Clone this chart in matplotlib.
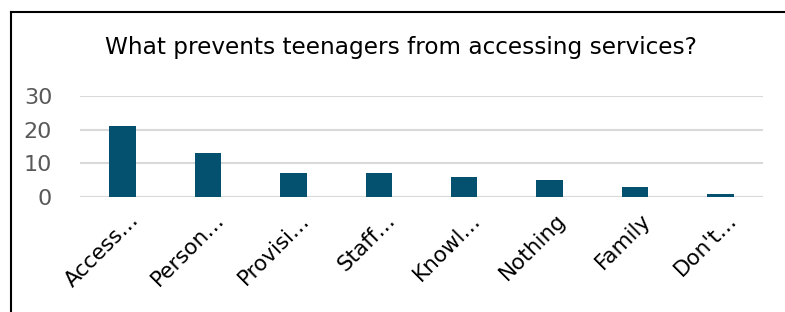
import matplotlib
matplotlib.use("Agg")
import matplotlib.pyplot as plt
import matplotlib.transforms as mtransforms
from matplotlib.lines import Line2D

categories = ["Access…", "Person…", "Provisi…", "Staff…", "Knowl…", "Nothing", "Family", "Don't…"]
counts = [21, 13, 7, 7, 6, 5, 3, 1]
yticks = [0, 10, 20, 30]

bar_color = "#03506F"
grid_color = "#D9D9D9"

fig = plt.figure(figsize=(7.85, 3.12), dpi=100)
ax = fig.add_axes([0.1019, 0.3686, 0.8701, 0.3237])

x = range(len(categories))
ax.bar(x, counts, width=0.31, color=bar_color, zorder=3)

ax.set_xlim(-0.5, len(categories) - 0.5)
ax.set_ylim(0, 30)
ax.set_yticks(yticks)
ax.set_yticklabels([str(v) for v in yticks], fontsize=16, color="#595959")
ax.yaxis.grid(True, color=grid_color, linewidth=1.5, zorder=0)
ax.tick_params(axis="y", length=0, pad=20)
ax.tick_params(axis="x", length=0, pad=9)
ax.set_xticks(list(x))
ax.set_xticklabels(categories, rotation=45, ha="right", rotation_mode="anchor",
                   fontsize=15.5, color="black")
# nudge the rotated labels a little to the right like Excel does
shift = mtransforms.ScaledTranslation(6 / 100, 0, fig.dpi_scale_trans)
for lab in ax.get_xticklabels():
    lab.set_transform(lab.get_transform() + shift)
for s in ax.spines.values():
    s.set_visible(False)
ax.axhline(0, color=grid_color, linewidth=1.5, zorder=2)

fig.text(0.511, 0.849, "What prevents teenagers from accessing services?",
         ha="center", va="center", fontsize=16.7, color="black")

# chart border (left and top edges)
fig.add_artist(Line2D([0.014, 0.014], [0, 0.9615], color="black", linewidth=1.5,
                      transform=fig.transFigure))
fig.add_artist(Line2D([0.014, 1.0], [0.9615, 0.9615], color="black", linewidth=1.5,
                      transform=fig.transFigure))

fig.savefig("out.png", dpi=100, facecolor="white")
